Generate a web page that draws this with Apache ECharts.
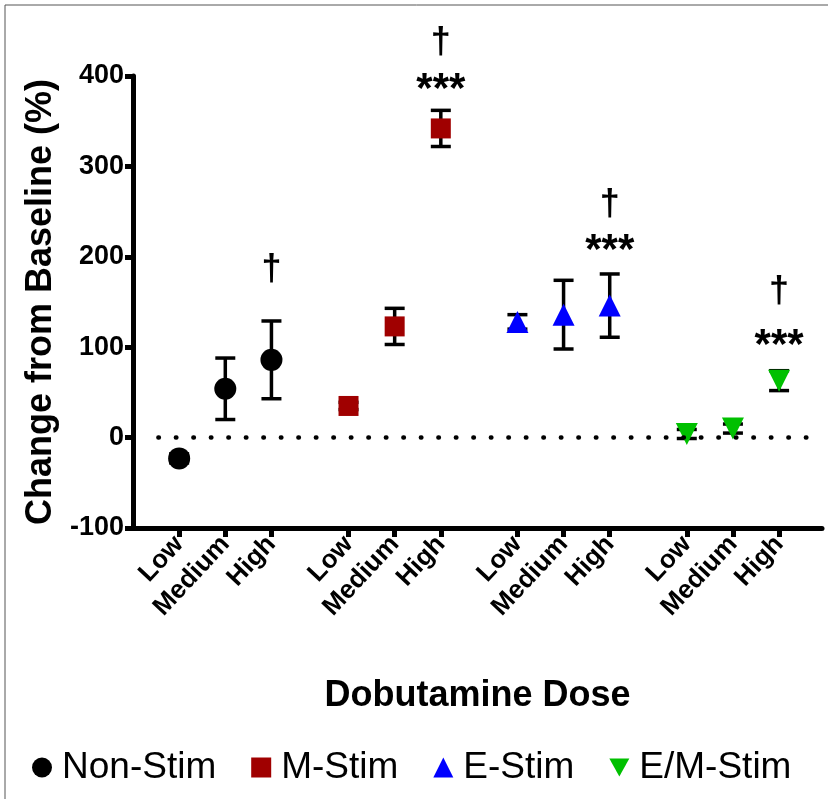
<!DOCTYPE html>
<html>
<head>
<meta charset="utf-8">
<script src="https://cdn.jsdelivr.net/npm/echarts@6/dist/echarts.min.js"></script>
<style>
  html, body { margin: 0; padding: 0; background: #fff; }
  #chart { width: 828px; height: 799px; }
</style>
</head>
<body>
<div id="chart"></div>
<script>
// dose labels and x positions (groups are spaced apart)
const doseLabels = ['Low', 'Medium', 'High'];
const groupStart = [0, 3.67, 7.33, 11];
const groups = ['Non-Stim', 'M-Stim', 'E-Stim', 'E/M-Stim'];
const colors = ['#000000', '#a00000', '#0000ff', '#00c000'];
const symbols = ['circle', 'rect', 'triangle', 'path://M0,0 L10,0 L5,9 Z'];

// mean change from baseline (%) per group: Low, Medium, High
const meanNonStim = [-23, 54, 86];
const meanMStim = [35, 123, 342];
const meanEStim = [128, 136, 146];
const meanEMStim = [4, 10, 63];
// error (+/-)
const errNonStim = [5, 34, 43];
const errMStim = [4, 20, 20];
const errEStim = [8, 38, 35];
const errEMStim = [5, 5, 11];

// significance marks above High dose
const annotGroup = [0, 1, 1, 2, 2, 3, 3];
const annotY = [187, 439, 395, 259, 217, 163, 112];
const annotText = ['†', '†', '***', '†', '***', '†', '***'];

const yTicks = [-100, 0, 100, 200, 300, 400];

const means = [meanNonStim, meanMStim, meanEStim, meanEMStim];
const errs = [errNonStim, errMStim, errEStim, errEMStim];

const xPos = [];
const xNames = {};
groupStart.forEach(g => doseLabels.forEach((d, i) => {
  const v = +(g + i).toFixed(2);
  xPos.push(v);
  xNames[v] = d;
}));

const chart = echarts.init(document.getElementById('chart'));

const series = [];
// error bars
groups.forEach((name, gi) => {
  series.push({
    type: 'custom',
    name: name + ' err',
    z: 2,
    data: means[gi].map((m, i) => [groupStart[gi] + i, m, errs[gi][i]]),
    renderItem: (params, api) => {
      const x = api.value(0), m = api.value(1), e = api.value(2);
      const top = api.coord([x, m + e]);
      const bot = api.coord([x, m - e]);
      const w = 10;
      const st = { stroke: '#000', lineWidth: 3.5 };
      return {
        type: 'group',
        children: [
          { type: 'line', shape: { x1: top[0], y1: top[1], x2: bot[0], y2: bot[1] }, style: st },
          { type: 'line', shape: { x1: top[0] - w, y1: top[1], x2: top[0] + w, y2: top[1] }, style: st },
          { type: 'line', shape: { x1: bot[0] - w, y1: bot[1], x2: bot[0] + w, y2: bot[1] }, style: st }
        ]
      };
    }
  });
});
// markers
groups.forEach((name, gi) => {
  series.push({
    type: 'scatter',
    name: name,
    z: 3,
    symbol: symbols[gi],
    symbolSize: gi === 0 ? 22 : (gi === 1 ? 20 : 22),
    itemStyle: { color: colors[gi], opacity: 1 },
    data: means[gi].map((m, i) => [groupStart[gi] + i, m]),
    markLine: gi === 0 ? {
      silent: true,
      symbol: 'none',
      label: { show: false },
      lineStyle: { color: '#000', width: 4.5, type: [0.5, 17], cap: 'round' },
      data: [[{ coord: [-0.45, 0] }, { coord: [13.8, 0] }]]
    } : undefined
  });
});
// annotations (annotY = visual centre of the mark)
series.push({
  type: 'custom',
  name: 'annot',
  clip: false,
  z: 4,
  data: annotY.map((y, i) => [groupStart[annotGroup[i]] + 2, y, i]),
  renderItem: (params, api) => {
    const p = api.coord([api.value(0), api.value(1)]);
    const star = annotText[api.value(2)] === '***';
    return {
      type: 'text',
      x: p[0],
      y: p[1] + (star ? 10 : 2),
      style: {
        text: annotText[api.value(2)],
        fill: '#000',
        fontFamily: 'Liberation Sans',
        fontWeight: 'bold',
        fontSize: star ? 42 : 36,
        align: 'center',
        verticalAlign: 'middle'
      }
    };
  }
});

chart.setOption({
  animation: false,
  backgroundColor: '#fff',
  textStyle: { fontFamily: 'Liberation Sans' },
  grid: { left: 133, right: 6, top: 76, bottom: 271 },
  xAxis: {
    type: 'value',
    min: -1,
    max: 13.93,
    name: 'Dobutamine Dose',
    nameLocation: 'middle',
    nameGap: 150,
    nameTextStyle: { fontSize: 36, fontWeight: 'bold', color: '#000' },
    splitLine: { show: false },
    axisLine: { show: true, onZero: false, lineStyle: { color: '#000', width: 5 } },
    axisTick: { show: true, customValues: xPos, length: 9, lineStyle: { color: '#000', width: 5 } },
    axisLabel: {
      customValues: xPos,
      rotate: 47,
      margin: 12,
      color: '#000',
      fontSize: 26,
      fontWeight: 'bold',
      formatter: v => xNames[+v.toFixed(2)] || ''
    }
  },
  yAxis: {
    type: 'value',
    min: -100,
    max: 400,
    interval: 100,
    name: 'Change from Baseline (%)',
    nameLocation: 'middle',
    nameGap: 72,
    nameTextStyle: { fontSize: 36, fontWeight: 'bold', color: '#000' },
    splitLine: { show: false },
    axisLine: { show: true, onZero: false, lineStyle: { color: '#000', width: 5 } },
    axisTick: { show: true, length: 8, lineStyle: { color: '#000', width: 5 } },
    axisLabel: {
      color: '#000', fontSize: 27, fontWeight: 'bold', margin: 9,
      formatter: v => yTicks.includes(v) ? String(v) : ''
    }
  },
  legend: {
    data: groups.map((g, i) => ({ name: g, icon: symbols[i] })),
    top: 744,
    left: 27,
    itemGap: 35,
    itemWidth: 20,
    itemHeight: 20,
    textStyle: { fontSize: 37, color: '#000', fontFamily: 'Liberation Sans', padding: [0, 0, 0, 5] }
  },
  graphic: [
    { type: 'line', shape: { x1: 5, y1: 5, x2: 828, y2: 5 }, style: { stroke: '#555', lineWidth: 1 } },
    { type: 'line', shape: { x1: 5, y1: 5, x2: 5, y2: 799 }, style: { stroke: '#555', lineWidth: 1 } }
  ],
  series: series
});
</script>
</body>
</html>
